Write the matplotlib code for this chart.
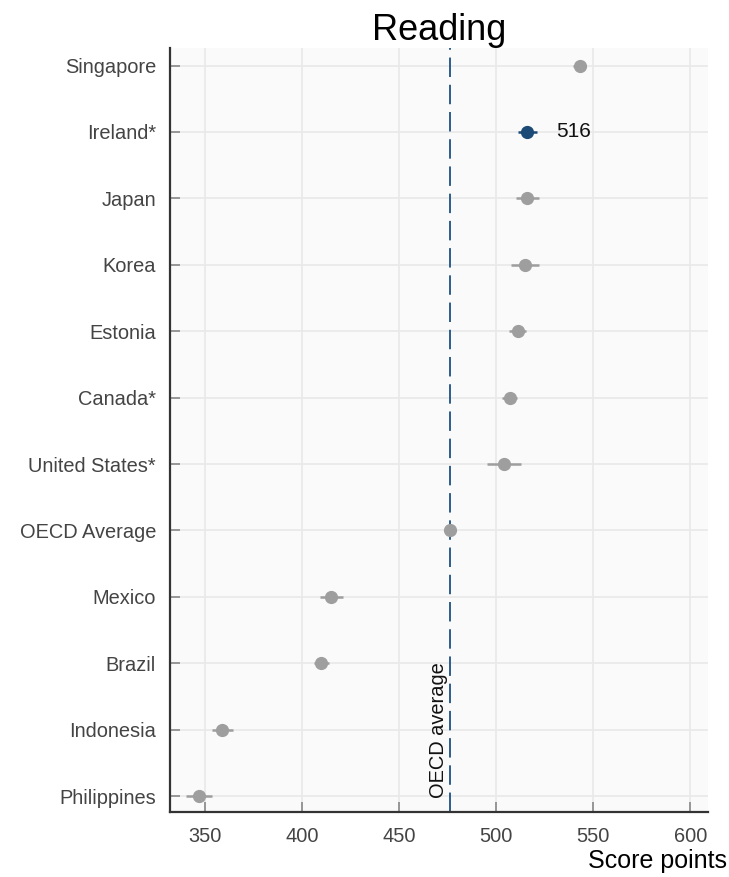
import numpy as np
import matplotlib
matplotlib.use("Agg")
import matplotlib.pyplot as plt

plt.rcParams["font.family"] = ["Liberation Sans", "DejaVu Sans"]

countries = ["Singapore", "Ireland*", "Japan", "Korea", "Estonia", "Canada*",
             "United States*", "OECD Average", "Mexico", "Brazil", "Indonesia", "Philippines"]
scores = [543, 516, 516, 515, 511, 507, 504, 476, 415, 410, 359, 347]
errors = [3.5, 5, 6, 7.2, 4.5, 3.8, 8.6, 0.5, 5.9, 3.9, 5.5, 6.7]
oecd_avg = 476
highlight = "Ireland*"
xticks = [350, 400, 450, 500, 550, 600]

fig = plt.figure(figsize=(7.29, 8.77), dpi=100)
ax = fig.add_axes([0.233, 0.074, 0.738, 0.871])
ax.set_facecolor("#fafafa")

y = np.arange(len(countries))
for yi, name, s, e in zip(y, countries, scores, errors):
    c = "#1b4a77" if name == highlight else "#9e9e9e"
    ax.errorbar(s, yi, xerr=e, fmt="o", color=c, ecolor=c, markersize=8.5,
                elinewidth=1.8, capsize=0, zorder=3)
    if name == highlight:
        ax.text(s + 15, yi, str(s), va="center", ha="left", fontsize=15, color="#111111")

ax.axvline(oecd_avg, color="#2d5d8c", linestyle=(0, (10, 4)), linewidth=1.4, zorder=2)
ax.text(oecd_avg - 1, len(countries) - 1 + 0.03, "OECD average", rotation=90,
        ha="right", va="bottom", fontsize=14.4, color="#111111")

ax.set_xlim(332, 609)
ax.set_ylim(len(countries) - 1 + 0.24, -0.26)
ax.set_xticks(xticks)
ax.set_yticks(y)
ax.set_yticklabels(countries)
ax.grid(True, color="#e9e9e9", linewidth=1.2, zorder=0)
ax.set_axisbelow(True)

for side in ["top", "right"]:
    ax.spines[side].set_visible(False)
for side in ["left", "bottom"]:
    ax.spines[side].set_color("#333333")
    ax.spines[side].set_linewidth(1.6)

ax.tick_params(axis="both", direction="in", length=7, width=1.2, color="#888888",
               labelsize=14.4, labelcolor="#444444")
ax.tick_params(axis="x", pad=11)
ax.tick_params(axis="y", pad=10)

ax.set_title("Reading", fontsize=26, pad=6)
fig.text(0.997, 0.005, "Score points", ha="right", va="bottom", fontsize=18)

fig.savefig("out.png", dpi=100)
